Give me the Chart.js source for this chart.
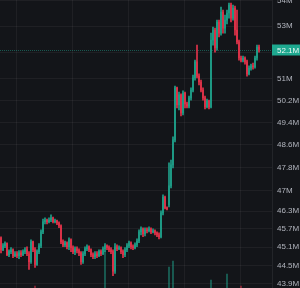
<!DOCTYPE html>
<html>
<head>
<meta charset="utf-8">
<script src="https://cdn.jsdelivr.net/npm/chart.js@4.4.0/dist/chart.umd.min.js"></script>
<style>
  html, body { margin: 0; padding: 0; background: #131519; }
  #wrap { width: 300px; height: 288px; position: relative; }
</style>
</head>
<body>
<div id="wrap"><canvas id="chart"></canvas></div>
<script>
// prices in millions, one candle per slot
const opens = [
  45.40,45.01,45.14,45.21,44.85,44.95,45.01,44.82,44.88,44.82,
  44.91,44.85,44.95,45.01,44.88,44.62,45.27,45.01,44.53,44.95,
  45.14,45.60,45.94,46.00,45.94,46.00,46.07,45.94,45.97,45.90,
  45.80,45.27,45.17,45.24,45.11,45.34,45.08,44.95,45.04,44.98,
  44.91,44.62,44.88,45.04,45.11,45.01,44.85,44.78,44.88,44.82,
  44.95,44.88,45.04,45.14,45.08,45.01,44.95,44.31,45.11,45.04,
  45.08,44.95,44.85,45.01,45.14,45.24,45.11,45.08,45.17,45.30,
  45.60,45.70,45.54,45.67,45.64,45.70,45.60,45.64,45.57,45.50,
  45.44,46.24,46.78,46.41,46.51,47.16,47.89,48.77,50.66,50.03,
  50.40,49.74,50.47,50.07,49.99,50.29,50.58,51.03,51.63,51.10,
  50.88,50.58,50.29,49.96,50.18,49.96,52.46,52.85,52.16,53.16,
  52.73,53.55,52.92,53.23,53.51,53.82,53.31,53.70,52.85,52.39,
  51.78,51.70,51.78,51.63,51.18,51.40,51.48,51.44,51.78,52.19
];
const highs = [
  45.44,45.21,45.27,45.24,45.01,45.08,45.04,44.95,44.95,44.98,
  44.98,45.01,45.08,45.11,44.95,45.34,45.30,45.08,45.01,45.21,
  45.67,46.03,46.07,46.03,46.07,46.17,46.10,46.03,46.00,45.94,
  45.84,45.34,45.30,45.27,45.40,45.37,45.14,45.11,45.11,45.04,
  44.95,44.95,45.11,45.17,45.14,45.04,44.91,44.95,44.95,45.01,
  45.01,45.11,45.21,45.17,45.14,45.08,45.01,45.21,45.17,45.14,
  45.11,45.01,45.08,45.21,45.30,45.27,45.17,45.24,45.37,45.67,
  45.77,45.74,45.74,45.74,45.77,45.74,45.70,45.67,45.60,45.57,
  46.31,46.85,46.81,46.44,47.96,48.06,48.88,50.73,50.69,50.51,
  50.44,50.55,50.51,50.14,50.36,50.66,51.14,51.70,52.27,51.18,
  50.95,50.66,50.36,50.25,50.21,52.73,52.96,52.92,53.23,53.23,
  53.74,53.62,53.43,53.62,53.90,53.90,53.82,53.78,53.62,52.46,
  51.85,51.85,51.82,51.70,51.48,51.55,51.59,51.85,52.27,52.27
];
const lows = [
  44.91,44.98,45.08,44.82,44.78,44.88,44.75,44.78,44.75,44.72,
  44.78,44.82,44.88,44.82,44.37,44.56,44.95,44.43,44.50,44.88,
  45.08,45.54,45.87,45.87,45.90,45.94,45.90,45.90,45.84,45.74,
  45.21,45.11,45.11,45.04,45.01,44.95,44.88,44.85,44.91,44.82,
  44.53,44.56,44.82,44.98,44.95,44.78,44.72,44.72,44.75,44.78,
  44.82,44.85,44.95,45.01,44.95,44.88,44.17,44.24,44.98,45.01,
  44.88,44.75,44.78,44.95,45.08,45.04,45.01,45.04,45.11,45.24,
  45.50,45.44,45.47,45.57,45.60,45.54,45.57,45.50,45.44,45.37,
  45.40,46.17,46.37,46.34,46.44,47.09,47.78,48.70,49.92,49.85,
  49.63,49.67,49.92,49.92,49.92,50.21,50.51,50.95,51.03,50.77,
  50.51,50.21,49.89,49.92,49.89,49.92,52.27,52.00,52.08,52.58,
  52.65,52.73,52.73,53.08,53.31,53.16,53.23,52.65,52.31,51.70,
  51.63,51.63,51.55,51.10,51.14,51.32,51.36,51.40,51.70,52.00
];
const closes = [
  45.01,45.14,45.21,44.85,44.95,45.01,44.82,44.88,44.82,44.91,
  44.85,44.95,45.01,44.88,44.62,45.27,45.01,44.53,44.95,45.14,
  45.60,45.94,46.00,45.94,46.00,46.07,45.94,45.97,45.90,45.80,
  45.27,45.17,45.24,45.11,45.34,45.08,44.95,45.04,44.98,44.91,
  44.62,44.88,45.04,45.11,45.01,44.85,44.78,44.88,44.82,44.95,
  44.88,45.04,45.14,45.08,45.01,44.95,44.31,45.11,45.04,45.08,
  44.95,44.85,45.01,45.14,45.24,45.11,45.08,45.17,45.30,45.60,
  45.70,45.54,45.67,45.64,45.70,45.60,45.64,45.57,45.50,45.44,
  46.24,46.78,46.41,46.37,47.16,47.89,48.77,50.66,50.03,50.40,
  49.74,50.47,50.07,49.99,50.29,50.58,51.03,51.63,51.10,50.88,
  50.58,50.29,49.96,50.18,49.96,52.46,52.85,52.16,53.16,52.73,
  53.55,52.92,53.23,53.51,53.82,53.31,53.70,52.85,52.39,51.78,
  51.70,51.78,51.63,51.18,51.40,51.48,51.44,51.78,52.19,52.10
];

// only a few bars carry visible volume
const volumeAt = [17, 52, 84, 86, 105, 113, 120];
const volumeVal = [40, 740, 420, 540, 160, 280, 40];

const priceTicks = [54, 53, 52, 51, 50.2, 49.4, 48.6, 47.8, 47, 46.3, 45.7, 45.1, 44.5, 43.9];
const tickLabels = ['54M', '53M', '52M', '51M', '50.2M', '49.4M', '48.6M', '47.8M', '47M', '46.3M', '45.7M', '45.1M', '44.5M', '43.9M'];
const timeGrid = [8, 36, 64, 92, 120];
const lastPrice = 52.1;
const lastLabel = '52.1M';

const UP = '#1f9e88';
const DOWN = '#e0334a';
const slots = 136;
const FONT = '"Liberation Sans", Arial, sans-serif';

const labels = [];
const wicks = [];
const bodies = [];
const colors = [];
const vols = [];
const volColors = [];
for (let i = 0; i < slots; i++) {
  labels.push(i);
  if (i < closes.length) {
    wicks.push([lows[i], highs[i]]);
    bodies.push([opens[i], closes[i]]);
    colors.push(closes[i] >= opens[i] ? UP : DOWN);
  } else {
    wicks.push(null);
    bodies.push(null);
    colors.push(UP);
  }
  const k = volumeAt.indexOf(i);
  vols.push(k >= 0 ? volumeVal[k] : null);
  volColors.push(colors[i] == UP ? 'rgba(31,158,136,0.6)' : 'rgba(224,51,74,0.6)');
}

const lastPricePlugin = {
  id: 'lastPrice',
  beforeDatasetsDraw(chart) {
    const { ctx, chartArea, scales } = chart;
    const y = Math.round(scales.y.getPixelForValue(lastPrice)) + 0.5;
    ctx.save();
    ctx.strokeStyle = 'rgba(34,171,148,0.45)';
    ctx.lineWidth = 1;
    ctx.setLineDash([1, 1]);
    ctx.beginPath();
    ctx.moveTo(chartArea.left, y);
    ctx.lineTo(chartArea.right, y);
    ctx.stroke();
    ctx.restore();
  },
  afterDraw(chart) {
    const { ctx, chartArea, scales } = chart;
    const y = Math.round(scales.y.getPixelForValue(lastPrice));
    ctx.save();
    ctx.fillStyle = '#1ea88f';
    ctx.fillRect(chartArea.right, y - 5.5, chart.width - chartArea.right, 11);
    ctx.fillStyle = '#eef7f5';
    ctx.font = '8px ' + FONT;
    ctx.textBaseline = 'middle';
    ctx.fillText(lastLabel, chartArea.right + 5, y + 0.5);
    ctx.restore();
  }
};

new Chart('chart', {
  type: 'bar',
  data: {
    labels: labels,
    datasets: [
      {
        data: vols,
        yAxisID: 'vol',
        backgroundColor: volColors,
        barThickness: 1,
        grouped: false,
        order: 3
      },
      {
        data: wicks,
        backgroundColor: colors,
        barThickness: 1,
        grouped: false,
        order: 2
      },
      {
        data: bodies,
        backgroundColor: colors,
        barThickness: 1,
        minBarLength: 1,
        grouped: false,
        order: 1
      }
    ]
  },
  options: {
    responsive: true,
    maintainAspectRatio: false,
    animation: false,
    layout: { padding: 0 },
    plugins: { legend: { display: false }, tooltip: { enabled: false } },
    scales: {
      x: {
        ticks: { display: false },
        border: { display: false },
        grid: {
          drawTicks: false,
          color: (c) => timeGrid.includes(c.index) ? 'rgba(255,255,255,0.05)' : 'transparent'
        },
        afterFit: (s) => { s.height = 0; }
      },
      y: {
        type: 'logarithmic',
        position: 'right',
        min: 43.77,
        max: 54.02,
        afterBuildTicks: (s) => { s.ticks = priceTicks.map(v => ({ value: v })); },
        afterFit: (s) => { s.width = 28; s.paddingTop = 0; s.paddingBottom = 0; },
        ticks: {
          padding: 5,
          color: '#b2b5be',
          font: { size: 8, family: FONT },
          callback: (v, i) => tickLabels[i]
        },
        border: { color: 'rgba(255,255,255,0.07)' },
        grid: { color: 'rgba(255,255,255,0.05)', drawTicks: false }
      },
      vol: {
        display: false,
        min: 0,
        max: 5760
      }
    }
  },
  plugins: [lastPricePlugin]
});
</script>
</body>
</html>
